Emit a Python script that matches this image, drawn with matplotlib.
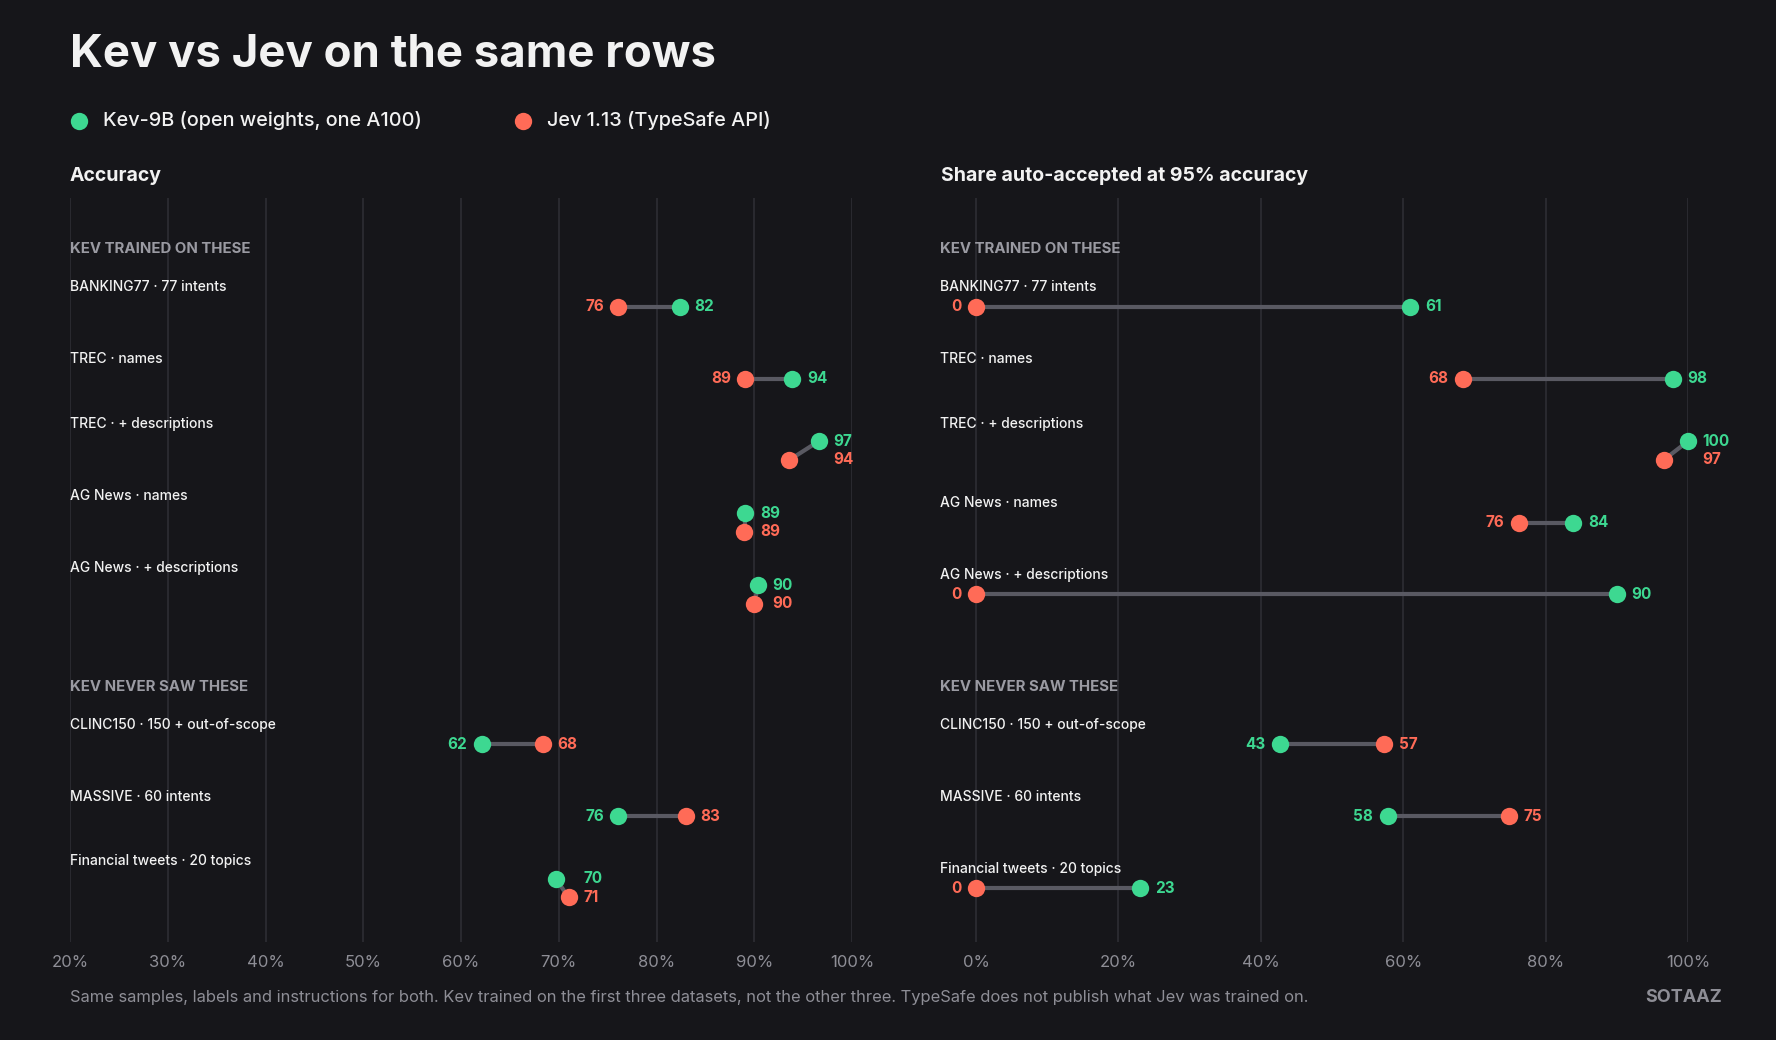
import matplotlib
matplotlib.use("Agg")
import matplotlib.pyplot as plt

plt.rcParams['font.family'] = ['Inter', 'DejaVu Sans']

BG = "#16161a"
GRID = "#2d2d34"
LINK = "#595962"
KEV_C = "#3dd891"
JEV_C = "#ff6b57"
TXT = "#f2f2f2"
MUTED = "#9a9aa2"
TICK = "#8e8e96"

groups = ["KEV TRAINED ON THESE", "KEV NEVER SAW THESE"]
rows = ["BANKING77 · 77 intents", "TREC · names", "TREC · + descriptions",
        "AG News · names", "AG News · + descriptions",
        "CLINC150 · 150 + out-of-scope", "MASSIVE · 60 intents",
        "Financial tweets · 20 topics"]
row_group = [0, 0, 0, 0, 0, 1, 1, 1]

acc_kev = [82.4, 93.9, 96.6, 89.1, 90.4, 62.1, 76.1, 69.7]
acc_jev = [76.1, 89.1, 93.6, 89.0, 90.0, 68.4, 83.0, 71.0]
auto_kev = [61.0, 97.9, 100.0, 83.9, 90.0, 42.7, 57.8, 23.1]
auto_jev = [0.0, 68.4, 96.6, 76.2, 0.0, 57.3, 74.8, 0.0]

acc_ticks = [20, 30, 40, 50, 60, 70, 80, 90, 100]
auto_ticks = [0, 20, 40, 60, 80, 100]

W, H = 1776, 1040
fig = plt.figure(figsize=(W / 100, H / 100), dpi=100, facecolor=BG)

# row positions: second group sits after a gap
ypos = [i + (1.08 if g == 1 else 0) for i, g in enumerate(row_group)]
group_y = [-0.8, 5 + 1.08 - 0.8]
MS = 12.5


def draw_panel(ax, kev, jev, xlim, ticks):
    ax.set_facecolor(BG)
    ax.set_xlim(*xlim)
    ax.set_ylim(8.83, -1.51)
    for s in ax.spines.values():
        s.set_visible(False)
    ax.set_yticks([])
    ax.set_xticks(ticks)
    ax.set_xticklabels([f"{t}%" for t in ticks])
    ax.tick_params(axis="x", length=0, pad=9.5, labelsize=12, labelcolor=TICK)
    for t in ticks:
        ax.axvline(t, color=GRID, lw=1.2, zorder=0)
    span = xlim[1] - xlim[0]
    x0 = xlim[0]
    for g, gy in zip(groups, group_y):
        ax.text(x0, gy, g, ha="left", va="center", fontsize=10.8,
                fontweight="bold", color=MUTED)
    for name, y, k, j in zip(rows, ypos, kev, jev):
        split = abs(k - j) / span < 0.05
        if split:
            yk, yj = y - 0.13, y + 0.13
            label_y = yk - 0.24
        else:
            yk = yj = y
            label_y = y - 0.27
        ax.text(x0, label_y, name, ha="left", va="center", fontsize=10,
                fontweight="medium", color=TXT)
        ax.plot([k, j], [yk, yj], color=LINK, lw=3, solid_capstyle="butt",
                zorder=2, clip_on=False)
        ax.plot([k], [yk], "o", ms=MS, color=KEV_C, mec="none", zorder=3, clip_on=False)
        ax.plot([j], [yj], "o", ms=MS, color=JEV_C, mec="none", zorder=3, clip_on=False)
        if split:
            xr = max(k, j)
            for v, yy, c in ((k, yk, KEV_C), (j, yj, JEV_C)):
                ax.annotate(f"{v:.0f}", (xr, yy), xytext=(10.5, 0),
                            textcoords="offset points", ha="left", va="center",
                            fontsize=11, fontweight="bold", color=c,
                            annotation_clip=False)
        else:
            lo, hi = sorted([(k, KEV_C), (j, JEV_C)])
            ax.annotate(f"{lo[0]:.0f}", (lo[0], y), xytext=(-10.5, 0),
                        textcoords="offset points", ha="right", va="center",
                        fontsize=11, fontweight="bold", color=lo[1],
                        annotation_clip=False)
            ax.annotate(f"{hi[0]:.0f}", (hi[0], y), xytext=(10.5, 0),
                        textcoords="offset points", ha="left", va="center",
                        fontsize=11, fontweight="bold", color=hi[1],
                        annotation_clip=False)


bottom, top = 1 - 942 / H, 1 - 198 / H
ax1 = fig.add_axes([70 / W, bottom, (852 - 70) / W, top - bottom])
ax2 = fig.add_axes([940.4 / W, bottom, (1688 - 940.4) / W, top - bottom])
draw_panel(ax1, acc_kev, acc_jev, (20, 100), acc_ticks)
draw_panel(ax2, auto_kev, auto_jev, (-5, 100), auto_ticks)

fig.text(70 / W, 0.831, "Accuracy", ha="left", va="center", fontsize=14,
         fontweight="bold", color=TXT)
fig.text(941 / W, 0.831, "Share auto-accepted at 95% accuracy", ha="left",
         va="center", fontsize=14, fontweight="bold", color=TXT)

fig.text(70 / W, 0.947, "Kev vs Jev on the same rows", ha="left", va="center",
         fontsize=32.8, fontweight="bold", color=TXT)

for dx, tx, label, c in ((79, 103, "Kev-9B (open weights, one A100)", KEV_C),
                         (523, 547, "Jev 1.13 (TypeSafe API)", JEV_C)):
    fig.lines.append(plt.Line2D([dx / W], [0.884], marker="o", ms=MS, color=c,
                                mec="none", transform=fig.transFigure))
    fig.text(tx / W, 0.884, label, ha="left", va="center", fontsize=14.3,
             fontweight="medium", color=TXT)

fig.text(70 / W, 0.041,
         "Same samples, labels and instructions for both. Kev trained on the first three "
         "datasets, not the other three. TypeSafe does not publish what Jev was trained on.",
         ha="left", va="center", fontsize=11.9, color=TICK)
fig.text(1722 / W, 0.041, "SOTAAZ", ha="right", va="center", fontsize=13,
         fontweight="bold", color=TICK)

fig.savefig("out.png", dpi=100, facecolor=BG)
